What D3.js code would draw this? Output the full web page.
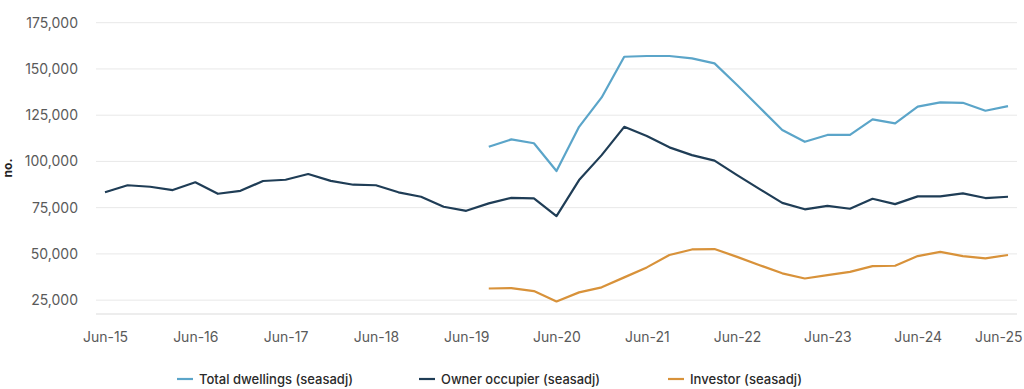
<!DOCTYPE html>
<html>
<head>
<meta charset="utf-8">
<script src="https://cdn.jsdelivr.net/npm/d3@7"></script>
<style>
  html, body { margin: 0; padding: 0; background: #ffffff; }
  svg { display: block; }
</style>
</head>
<body>
<svg id="chart" width="1024" height="389"></svg>
<script>
const quarters = [
  "Jun-15","Sep-15","Dec-15","Mar-16","Jun-16","Sep-16","Dec-16","Mar-17",
  "Jun-17","Sep-17","Dec-17","Mar-18","Jun-18","Sep-18","Dec-18","Mar-19",
  "Jun-19","Sep-19","Dec-19","Mar-20","Jun-20","Sep-20","Dec-20","Mar-21",
  "Jun-21","Sep-21","Dec-21","Mar-22","Jun-22","Sep-22","Dec-22","Mar-23",
  "Jun-23","Sep-23","Dec-23","Mar-24","Jun-24","Sep-24","Dec-24","Mar-25",
  "Jun-25"
];
const xTickLabels = ["Jun-15","Jun-16","Jun-17","Jun-18","Jun-19","Jun-20","Jun-21","Jun-22","Jun-23","Jun-24","Jun-25"];
const yTickValues = [25000, 50000, 75000, 100000, 125000, 150000, 175000];

const totalDwellings = [
  null,null,null,null,null,null,null,null,null,null,null,null,null,null,null,null,null,
  107900, 111900, 109800, 94800, 118700, 134600, 156600, 157000, 157000, 155700, 153000,
  141300, 129100, 117000, 110600, 114300, 114300, 122700, 120600, 129600, 131900, 131700,
  127400, 129900
];
const ownerOccupier = [
  83300, 87100, 86300, 84500, 88700, 82500, 84100, 89400, 90100, 93200, 89500, 87400,
  87100, 83300, 80900, 75500, 73300, 77300, 80300, 80000, 70400, 89900, 103400, 118700,
  113700, 107600, 103400, 100400, 92600, 85000, 77600, 74100, 76000, 74400, 79800, 76900,
  81100, 81100, 82700, 80200, 80900
];
const investor = [
  null,null,null,null,null,null,null,null,null,null,null,null,null,null,null,null,null,
  31300, 31500, 29900, 24300, 29200, 31900, 37300, 42700, 49400, 52400, 52600,
  48400, 43900, 39500, 36700, 38500, 40300, 43400, 43600, 48800, 51100, 48800,
  47600, 49400
];

const seriesNames = ["Total dwellings (seasadj)", "Owner occupier (seasadj)", "Investor (seasadj)"];
const seriesColors = ["#5ba5c9", "#1f3d56", "#d8923a"];
const seriesData = [totalDwellings, ownerOccupier, investor];

const svg = d3.select("#chart");
const plotLeft = 96, plotRight = 1017;

const x = d3.scalePoint().domain(quarters).range([105, 1008]);
const y = d3.scaleLinear().domain([17500, 175000]).range([314, 22.7]);

// gridlines
svg.append("g")
  .selectAll("line")
  .data(yTickValues)
  .join("line")
  .attr("x1", plotLeft).attr("x2", plotRight)
  .attr("y1", d => y(d)).attr("y2", d => y(d))
  .attr("stroke", "#e8e8e8").attr("stroke-width", 1);

// y axis labels
const yAxis = d3.axisLeft(y).tickValues(yTickValues).tickSize(0).tickPadding(0)
  .tickFormat(d3.format(","));
const yg = svg.append("g").attr("transform", "translate(78,0)").call(yAxis);
yg.select(".domain").remove();
yg.selectAll("text")
  .attr("fill", "#5a5a5a")
  .style("font-family", "Inter, 'Noto Sans', sans-serif")
  .style("font-size", "14px");

// x axis
const xAxis = d3.axisBottom(x).tickValues(xTickLabels).tickSize(0).tickPadding(18);
const xg = svg.append("g").attr("transform", "translate(0,314)").call(xAxis);
xg.select(".domain").remove();
xg.selectAll("text")
  .attr("fill", "#5a5a5a")
  .style("font-family", "Inter, 'Noto Sans', sans-serif")
  .style("font-size", "14px");
xg.selectAll(".tick").filter(d => d === "Jun-25").select("text")
  .attr("text-anchor", "end").attr("x", 14);

svg.append("line")
  .attr("x1", plotLeft).attr("x2", plotRight)
  .attr("y1", 314).attr("y2", 314)
  .attr("stroke", "#dcdcdc").attr("stroke-width", 1.2);

// y title
svg.append("text")
  .attr("transform", "translate(12,168) rotate(-90)")
  .attr("text-anchor", "middle")
  .attr("fill", "#222")
  .style("font-family", "Inter, 'Noto Sans', sans-serif")
  .style("font-size", "12px")
  .style("font-weight", "700")
  .text("no.");

// lines
const line = d3.line()
  .defined(d => d.v !== null)
  .x(d => x(d.q))
  .y(d => y(d.v));

seriesData.forEach((arr, i) => {
  const pts = quarters.map((q, j) => ({ q, v: arr[j] }));
  svg.append("path")
    .datum(pts)
    .attr("fill", "none")
    .attr("stroke", seriesColors[i])
    .attr("stroke-width", 2.2)
    .attr("stroke-linejoin", "round")
    .attr("d", line);
});

// legend
const legendX = [177, 419, 668];
const legendW = [154, 159, 112];
const lg = svg.append("g").attr("transform", "translate(0,379)");
seriesNames.forEach((name, i) => {
  lg.append("line")
    .attr("x1", legendX[i]).attr("x2", legendX[i] + 16)
    .attr("y1", 0).attr("y2", 0)
    .attr("stroke", seriesColors[i]).attr("stroke-width", 2.2);
  lg.append("text")
    .attr("x", legendX[i] + 22)
    .attr("y", 0)
    .attr("dy", "0.35em")
    .attr("fill", "#2a2a2a")
    .attr("textLength", legendW[i])
    .attr("lengthAdjust", "spacingAndGlyphs")
    .style("font-family", "Inter, 'Noto Sans', sans-serif")
    .style("font-size", "13px")
    .style("font-weight", "500")
    .text(name);
});
</script>
</body>
</html>
